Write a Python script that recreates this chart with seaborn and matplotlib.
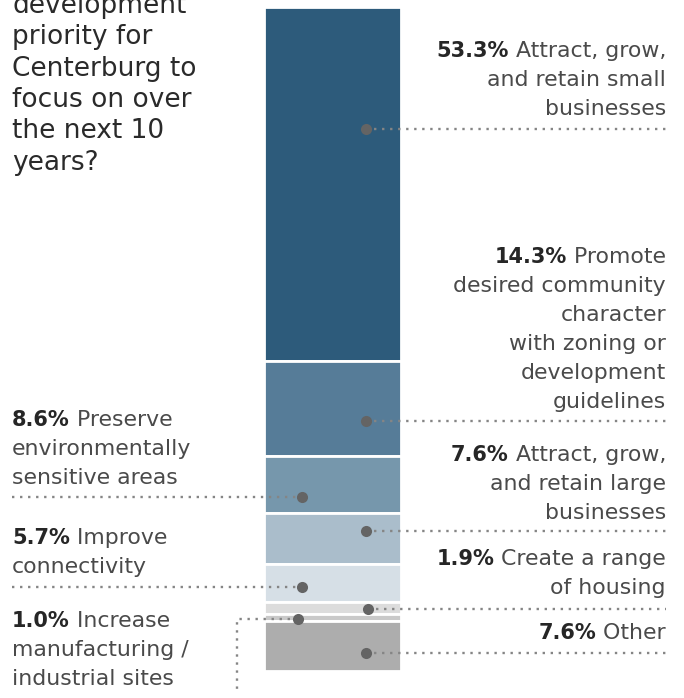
import numpy as np
import pandas as pd
import matplotlib
matplotlib.use("Agg")
import matplotlib.pyplot as plt
import matplotlib.transforms as mtransforms
import seaborn as sns

# Data (top to bottom of the stacked bar)
pcts = [53.3, 14.3, 8.6, 7.6, 5.7, 1.9, 1.0, 7.6]
pct_labels = ["53.3%", "14.3%", "8.6%", "7.6%", "5.7%", "1.9%", "1.0%", "7.6%"]
answers = [
    ["Attract, grow,", "and retain small", "businesses"],
    ["Promote", "desired community", "character", "with zoning or", "development", "guidelines"],
    ["Preserve", "environmentally", "sensitive areas"],
    ["Attract, grow,", "and retain large", "businesses"],
    ["Improve", "connectivity"],
    ["Create a range", "of housing"],
    ["Increase", "manufacturing /", "industrial sites"],
    ["Other"],
]
seg_colors = ["#2d5b7b", "#567c98", "#7697ac", "#aabdcb", "#d6dfe6", "#dcdcdc", "#c9c9c9", "#adadad"]
title_lines = ["development", "priority for", "Centerburg to", "focus on over", "the next 10", "years?"]

sns.set_theme(style="white")
W, H = 684, 698
fig = plt.figure(figsize=(W / 100, H / 100), dpi=100)
ax = fig.add_axes([0, 0, 1, 1])

df = pd.DataFrame({"q": ["all"] * len(pcts), "pct": pcts})
df["start"] = df["pct"].cumsum() - df["pct"]

for i, row in df.iterrows():
    sns.barplot(x=[row["q"]], y=[row["pct"]], bottom=row["start"], color=seg_colors[i],
                saturation=1, width=1, edgecolor="white", linewidth=2, ax=ax)

# map axes so the bar sits where it does in the original layout
ax.set_xlim(-2.4227, 2.5664)
ax.set_ylim(104.0, -0.993)
ax.axis("off")

# pixel coords with origin top-left
px = mtransforms.Affine2D().scale(1, -1).translate(0, H)

font = "DejaVu Sans"
body_col = "#4a4a4a"
bold_col = "#262626"
dot_col = "#646464"
lead_col = "#858585"
fs = 15.8
fs_bold = 15

r = fig.canvas.get_renderer()

def label(x, baselines, bold, lines, side):
    for j, (yb, txt) in enumerate(zip(baselines, lines)):
        if j == 0:
            if side == "right":
                t = ax.text(x, yb, " " + txt, transform=px, ha="right", va="baseline",
                            fontsize=fs, family=font, color=body_col)
                w = t.get_window_extent(r).width
                ax.text(x - w, yb, bold, transform=px, ha="right", va="baseline",
                        fontsize=fs_bold, family=font, weight="bold", color=bold_col)
            else:
                b = ax.text(x, yb, bold, transform=px, ha="left", va="baseline",
                            fontsize=fs_bold, family=font, weight="bold", color=bold_col)
                w = b.get_window_extent(r).width
                ax.text(x + w, yb, " " + txt, transform=px, ha="left", va="baseline",
                        fontsize=fs, family=font, color=body_col)
        else:
            ax.text(x, yb, txt, transform=px, ha="right" if side == "right" else "left",
                    va="baseline", fontsize=fs, family=font, color=body_col)

def leader(xs, ys, dot):
    ax.plot(xs, ys, transform=px, color=lead_col, lw=1.7, ls=(0, (1, 2.4)),
            solid_capstyle="butt", dash_capstyle="butt")
    ax.plot([dot[0]], [dot[1]], transform=px, marker="o", ms=8, color=dot_col, mec="none")

# label layout: (side, text x, first baseline, leader y, dot x)
layout = [
    ("right", 666, 57, 129, 366),
    ("right", 666, 263, 421, 366),
    ("left", 12, 426, 497, 302),
    ("right", 666, 461, 531, 366),
    ("left", 12, 544, 587, 302),
    ("right", 666, 565, 609, 368),
    ("left", 12, 627, 619, 298),
    ("right", 666, 639, 653, 366),
]
step = 29
for i, (side, x, y0, ly, dx) in enumerate(layout):
    ys = [y0 + k * step for k in range(len(answers[i]))]
    label(x, ys, pct_labels[i], answers[i], side)
    if i == 6:
        leader([dx, 237, 237], [ly, ly, 692], (dx, ly))
    elif side == "right":
        leader([dx, 666], [ly, ly], (dx, ly))
    else:
        leader([12, dx], [ly, ly], (dx, ly))

# title (first line is cropped by the top edge)
for k, line in enumerate(title_lines):
    ax.text(12, 13 + k * 31.3, line, transform=px, ha="left", va="baseline",
            fontsize=19, family=font, color="#2a2a2a")

fig.savefig("out.png", dpi=100)
